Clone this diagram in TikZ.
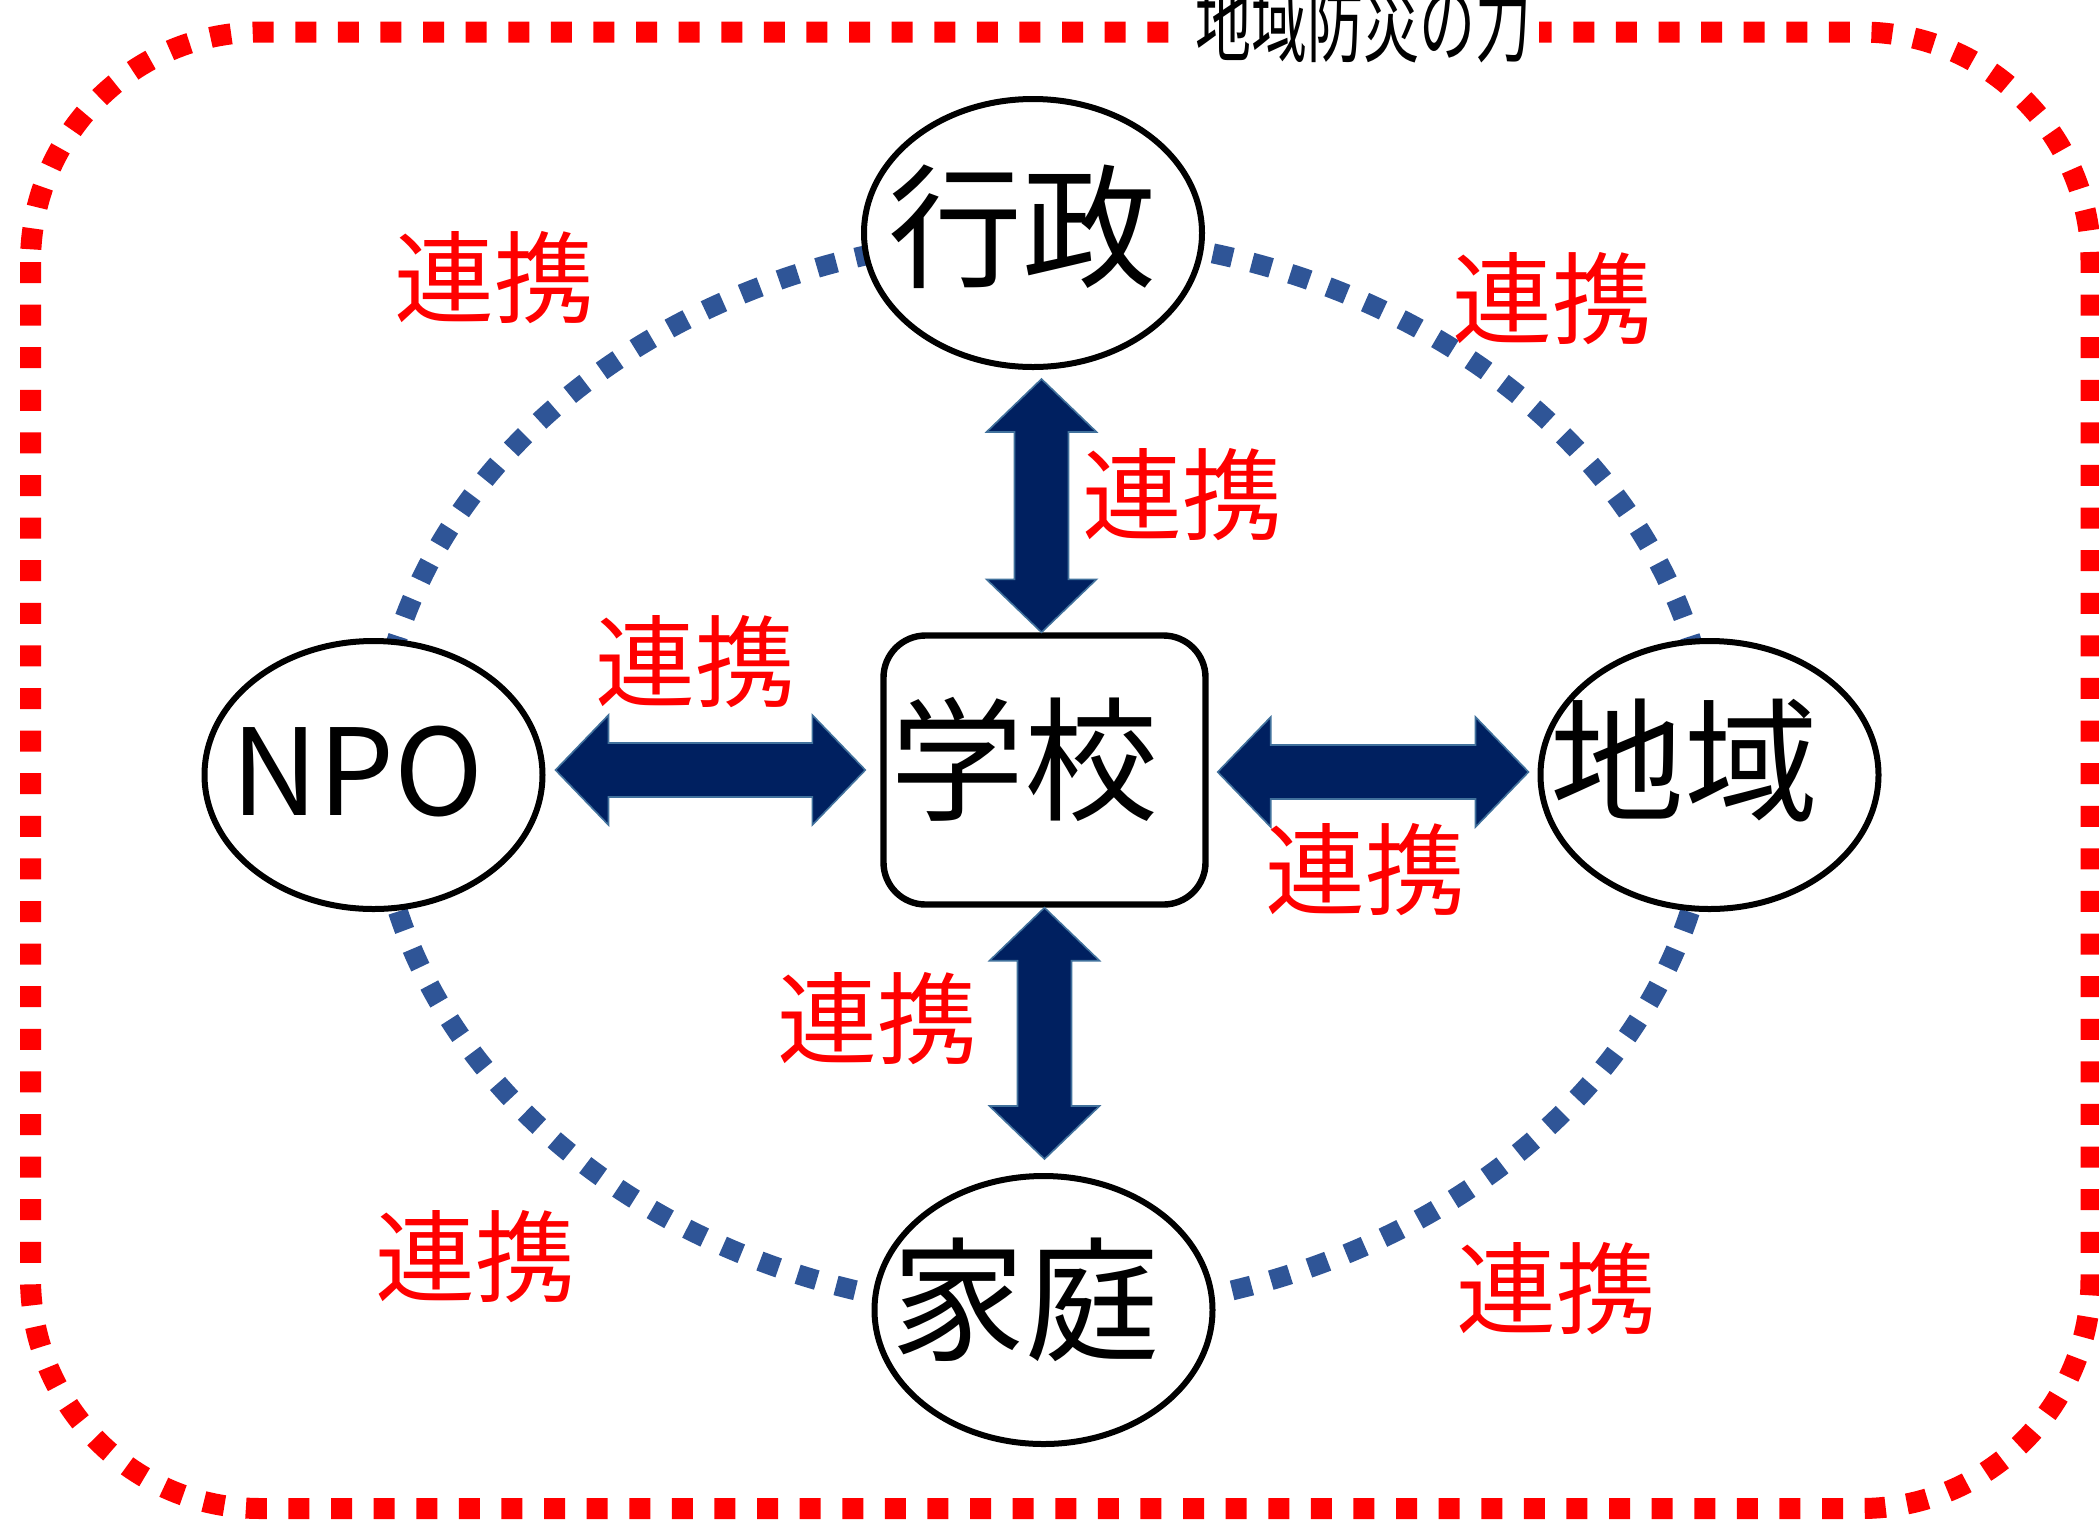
\documentclass[tikz,border=0pt]{standalone}
\usepackage{fontspec}
\setmainfont{Noto Sans CJK JP}
\usepackage{graphicx}
\usetikzlibrary{calc,shapes.geometric}
\definecolor{navy}{HTML}{002060}
\definecolor{navyedge}{HTML}{41719C}
\definecolor{dotblue}{HTML}{2F5597}
\newcommand\hl{26.5pt}
\newcommand\hw{27.5pt}
\newcommand\sw{13.5pt}
% text placed without changing the node size, shifted by (#1,#2)
\newcommand\nodetext[3]{\makebox[0pt]{\raisebox{#2}[0pt][0pt]{\kern#1\kern#1#3}}}
\newcommand\dblarr[2]{%
  \coordinate (arA) at ($(#1)!\hl!(#2)$);
  \coordinate (arB) at ($(#2)!\hl!(#1)$);
  \filldraw[bigarrow] (#1)
    -- ($(arA)!\hw!90:(#2)$) -- ($(arA)!\sw!90:(#2)$)
    -- ($(arB)!\sw!-90:(#1)$) -- ($(arB)!\hw!-90:(#1)$)
    -- (#2)
    -- ($(arB)!\hw!90:(#1)$) -- ($(arB)!\sw!90:(#1)$)
    -- ($(arA)!\sw!-90:(#2)$) -- ($(arA)!\hw!-90:(#2)$)
    -- cycle;}
\tikzset{
  org/.style={ellipse, draw=black, line width=3pt, fill=white,
    minimum width=169pt, minimum height=134pt, inner sep=0pt,
    font=\fontsize{67pt}{70pt}\selectfont},
  school/.style={rectangle, rounded corners=21pt, draw=black, line width=3.2pt,
    fill=white, minimum width=161pt, minimum height=134.5pt, inner sep=0pt,
    font=\fontsize{67pt}{70pt}\selectfont},
  renkei/.style={text=red, font=\fontsize{50pt}{55pt}\selectfont, inner sep=0pt},
  bigarrow/.style={fill=navy, draw=navyedge, line width=0.8pt, line join=miter},
  ringdots/.style={draw=dotblue, line width=10pt, dash pattern=on 10pt off 10pt},
  framedots/.style={draw=red, line width=10.5pt, dash pattern=on 10.5pt off 10.8pt,
    rounded corners=115pt},
}
\begin{document}
\begin{tikzpicture}[x=0.5pt, y=-0.5pt]
\useasboundingbox (0,0) rectangle (2099,1522);
% ring
\draw[ringdots] (1044,774) ellipse [x radius=334pt, y radius=269pt];
% nodes
\node[org] (gy) at (1033,233) {\nodetext{-5.5pt}{-22pt}{行政}};
\node[org, font=\fontsize{60pt}{62pt}\selectfont] (npo) at (373.5,775) {\nodetext{-8pt}{-20pt}{NPO}};
\node[org] (ch) at (1709.5,775) {\nodetext{-12.5pt}{-18pt}{地域}};
\node[org] (kt) at (1043.5,1310) {\nodetext{-9pt}{-20pt}{家庭}};
\node[school] (kk) at (1044.5,770) {\nodetext{-10pt}{-20pt}{学校}};
% arrows
\coordinate (t1) at ($(kk.north |- gy.south)+(-3,9)$);
\coordinate (t2) at ($(kk.north)+(-3,0)$);
\coordinate (b1) at (kk.south);
\coordinate (b2) at ($(kk.south |- kt.north)+(0,-14)$);
\coordinate (l1) at ($(kk.west -| npo.east)+(10,0)$);
\coordinate (l2) at ($(kk.west)+(-15,0)$);
\coordinate (r1) at ($(kk.east)+(9,2)$);
\coordinate (r2) at ($(kk.east -| ch.west)+(-9,2)$);
\dblarr{t1}{t2}
\dblarr{b1}{b2}
\dblarr{l1}{l2}
\dblarr{r1}{r2}
% labels
\node[renkei] (k1) at (494,278) {連携};
\node[renkei] (k2) at (1552,299) {連携};
\node[renkei] (k3) at (1182,495) {連携};
\node[renkei] (k4) at (695,662) {連携};
\node[renkei] (k5) at (1365,870) {連携};
\node[renkei] (k6) at (877,1019) {連携};
\node[renkei] (k7) at (475,1257) {連携};
\node[renkei] (k8) at (1556,1289) {連携};
% frame
\draw[framedots] (30.5,32) rectangle (2091,1508.5);
\node[fill=white, inner xsep=4pt, inner ysep=2pt, anchor=base,
  font=\fontsize{28pt}{30pt}\selectfont] (title) at (1363,55)
  {\scalebox{1}[1.6]{地域防災の力}};
\end{tikzpicture}
\end{document}
